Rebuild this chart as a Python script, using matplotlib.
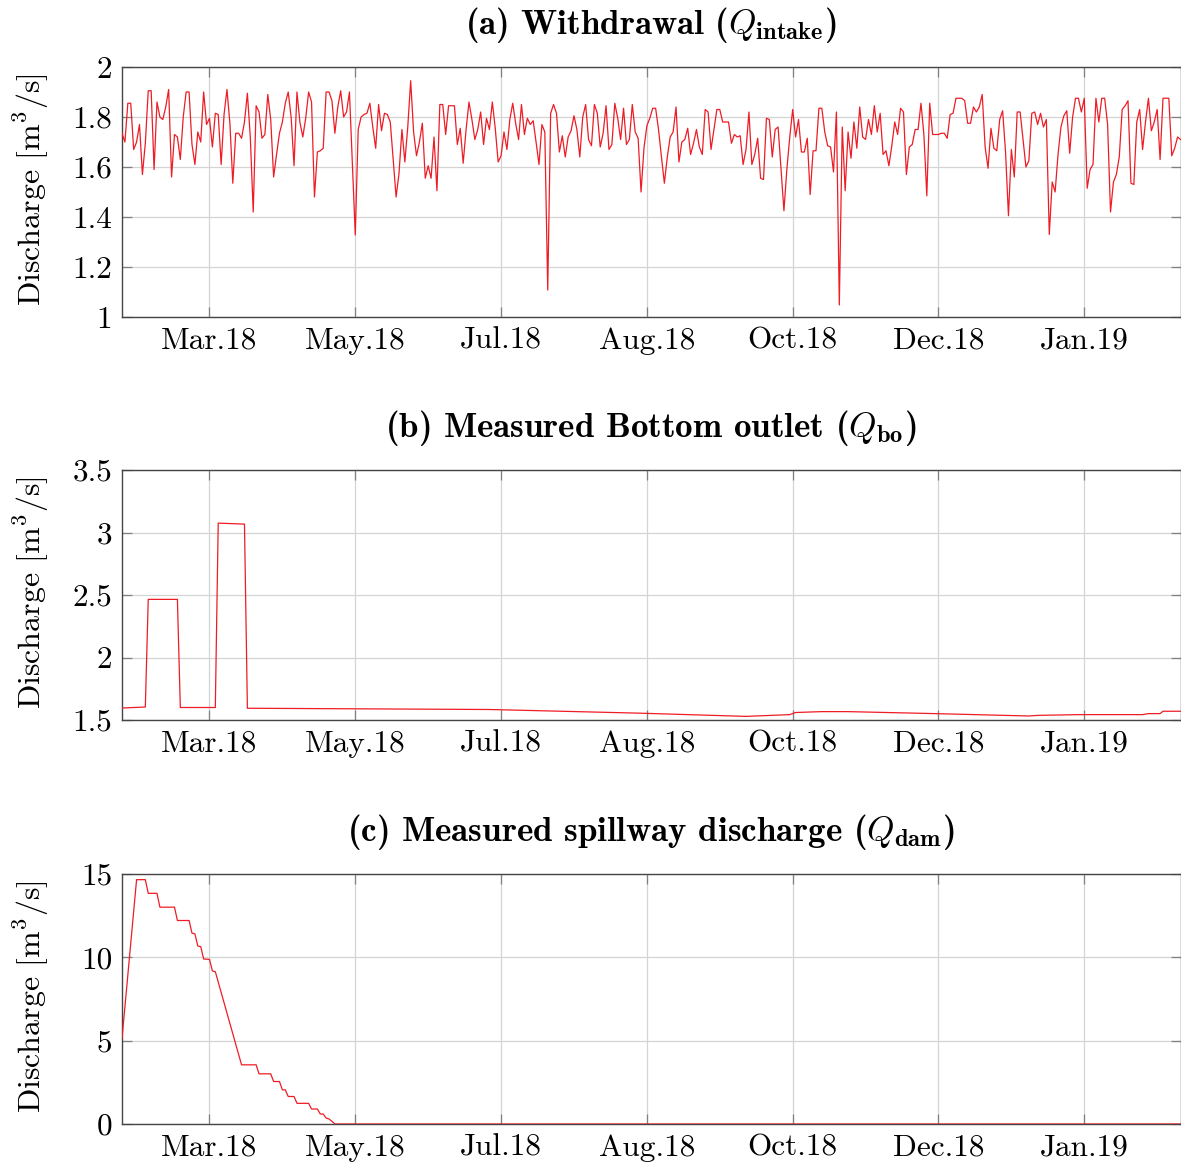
import matplotlib
matplotlib.use("Agg")
import matplotlib.pyplot as plt
import matplotlib.dates as mdates
from matplotlib.ticker import FixedLocator, FixedFormatter
import pandas as pd

# ---------------------------------------------------------------------------
# Data
# ---------------------------------------------------------------------------
start_date = "2018-02-28"
end_offset = 363  # days shown on the x axis

# (a) daily withdrawal at the intake [m3/s]
withdrawal = [
    1.735, 1.70, 1.855, 1.855, 1.67, 1.70, 1.77, 1.57, 1.695, 1.905,
    1.905, 1.59, 1.86, 1.80, 1.79, 1.84, 1.91, 1.56, 1.73, 1.72,
    1.63, 1.80, 1.90, 1.90, 1.69, 1.61, 1.74, 1.70, 1.90, 1.77,
    1.795, 1.68, 1.815, 1.81, 1.61, 1.81, 1.91, 1.775, 1.535, 1.735,
    1.735, 1.715, 1.78, 1.895, 1.72, 1.42, 1.845, 1.82, 1.715, 1.73,
    1.89, 1.79, 1.56, 1.65, 1.735, 1.78, 1.855, 1.90, 1.80, 1.605,
    1.90,
    1.78, 1.72, 1.795, 1.90, 1.86, 1.48, 1.66, 1.665, 1.675, 1.90,
    1.90, 1.865, 1.735, 1.84, 1.905, 1.80, 1.82, 1.90, 1.615, 1.328,
    1.75, 1.80, 1.81, 1.815, 1.855, 1.76, 1.675, 1.85, 1.745, 1.815,
    1.81, 1.78, 1.63, 1.48, 1.575, 1.75, 1.62, 1.76, 1.945, 1.74,
    1.645, 1.70, 1.775, 1.555, 1.605, 1.555, 1.72, 1.505, 1.85, 1.85,
    1.73, 1.845, 1.845, 1.845, 1.69, 1.755, 1.615, 1.75, 1.86, 1.79,
    1.71, 1.75, 1.82, 1.69, 1.795, 1.75, 1.86, 1.755, 1.62, 1.645,
    1.74, 1.67, 1.79, 1.855, 1.775, 1.71, 1.85, 1.73, 1.795, 1.77,
    1.785, 1.70, 1.61, 1.77, 1.74, 1.108, 1.815, 1.85, 1.815, 1.66,
    1.725, 1.64, 1.72, 1.745, 1.805, 1.75, 1.64, 1.80, 1.85, 1.71,
    1.685, 1.85, 1.815, 1.68, 1.735, 1.845, 1.67, 1.69, 1.855, 1.795,
    1.71, 1.835, 1.69, 1.71, 1.85, 1.74, 1.715, 1.50, 1.675, 1.765,
    1.795, 1.835, 1.835, 1.75, 1.64, 1.535, 1.64, 1.72, 1.74, 1.84,
    1.62, 1.70, 1.71, 1.755, 1.65, 1.695, 1.75, 1.68, 1.65, 1.83,
    1.82, 1.67, 1.75, 1.83, 1.83, 1.78, 1.78, 1.78, 1.695, 1.73,
    1.72, 1.725, 1.61, 1.67, 1.82, 1.61, 1.65, 1.715, 1.555, 1.55,
    1.795, 1.79, 1.64, 1.75, 1.76, 1.59, 1.425, 1.59, 1.72, 1.83,
    1.72, 1.79, 1.66, 1.66, 1.715, 1.49, 1.665, 1.665, 1.835, 1.835,
    1.74, 1.685, 1.68, 1.58, 1.82, 1.048, 1.76, 1.505, 1.74, 1.635,
    1.78, 1.675, 1.84, 1.72, 1.71, 1.79, 1.73, 1.845, 1.74, 1.815,
    1.65, 1.665, 1.605, 1.685, 1.78, 1.73, 1.835, 1.82, 1.57, 1.68,
    1.69, 1.75, 1.75, 1.855, 1.73, 1.485, 1.855, 1.73, 1.73, 1.73,
    1.735, 1.735, 1.715, 1.81, 1.815, 1.875, 1.875, 1.875, 1.865, 1.775,
    1.775, 1.84, 1.82, 1.84, 1.89, 1.68, 1.595, 1.755, 1.675, 1.665,
    1.79, 1.825, 1.66, 1.405, 1.67, 1.56, 1.82, 1.82, 1.71, 1.60,
    1.625, 1.815, 1.82, 1.77, 1.815, 1.76, 1.79, 1.33, 1.54, 1.50,
    1.65, 1.76, 1.805, 1.825, 1.655, 1.80, 1.875, 1.875, 1.82, 1.875,
    1.515, 1.59, 1.61, 1.875, 1.78, 1.875, 1.875, 1.77, 1.42, 1.54,
    1.57, 1.64, 1.83, 1.845, 1.865, 1.535, 1.53, 1.78, 1.83, 1.67,
    1.78, 1.875, 1.745, 1.78, 1.83, 1.63, 1.875, 1.875, 1.875, 1.645,
    1.675, 1.72, 1.71,
]

# (b) bottom outlet discharge, given at day offsets from the start date
bo_day = [0, 8, 9, 19, 20, 32, 33, 42, 43, 126, 177, 214, 229, 231, 240,
          249, 279, 311, 314, 328, 350, 352, 356, 357, 363]
bo_val = [1.596, 1.604, 2.465, 2.465, 1.600, 1.600, 3.075, 3.067, 1.594,
          1.584, 1.555, 1.529, 1.543, 1.560, 1.567, 1.567, 1.551, 1.532,
          1.537, 1.543, 1.543, 1.551, 1.551, 1.570, 1.570]

# (c) spillway discharge, given at day offsets from the start date
dam_day = [0, 5, 8, 9, 12, 13, 18, 19, 23, 24, 25, 26, 27, 28, 30, 31, 32,
           41, 46, 47, 51, 52, 54, 55, 56, 57, 59, 60, 64, 65, 67, 68, 69,
           70, 71, 72, 73, 363]
dam_val = [5.12, 14.66, 14.66, 13.84, 13.84, 13.01, 13.01, 12.21, 12.21,
           11.45, 11.41, 10.68, 10.64, 9.90, 9.88, 9.18, 9.14,
           3.55, 3.55, 3.01, 3.01, 2.55, 2.55, 2.05, 2.05, 1.65, 1.65,
           1.24, 1.24, 0.90, 0.90, 0.60, 0.60, 0.36, 0.30, 0.16, 0.0, 0.0]

xtick_dates = ["2018-03-30", "2018-05-19", "2018-07-08", "2018-08-27",
               "2018-10-16", "2018-12-05", "2019-01-24"]

titles = [
    r"(a) Withdrawal ($Q_{\mathbf{intake}}$)",
    r"(b) Measured Bottom outlet ($Q_{\mathbf{bo}}$)",
    r"(c) Measured spillway discharge ($Q_{\mathbf{dam}}$)",
]
yticks = [[1, 1.2, 1.4, 1.6, 1.8, 2],
          [1.5, 2, 2.5, 3, 3.5],
          [0, 5, 10, 15]]
ytick_labels = [["1", "1.2", "1.4", "1.6", "1.8", "2"],
                ["1.5", "2", "2.5", "3", "3.5"],
                ["0", "5", "10", "15"]]
ylimits = [(1, 2), (1.5, 3.5), (0, 15)]
ylabel = r"Discharge [m$^3$/s]"

# ---------------------------------------------------------------------------
# Figure
# ---------------------------------------------------------------------------
plt.rcParams.update({
    "font.family": "cmr10",
    "mathtext.fontset": "cm",
    "axes.formatter.use_mathtext": True,
    "font.size": 22,
})

t0 = pd.Timestamp(start_date)
t_end = t0 + pd.Timedelta(days=end_offset)
dates_a = pd.date_range(t0, periods=len(withdrawal), freq="D")
dates_b = [t0 + pd.Timedelta(days=d) for d in bo_day]
dates_c = [t0 + pd.Timedelta(days=d) for d in dam_day]
series = [(dates_a, withdrawal), (dates_b, bo_val), (dates_c, dam_val)]

W, H = 1181, 1164
fig = plt.figure(figsize=(W / 100, H / 100), dpi=100)

ax_left, ax_right = 122, 1180.5
ax_tops = [67, 470, 874]
ax_h = 250

line_color = "#ee1c25"
grid_color = "#d4d4d4"
spine_color = "#454545"
tick_color = "#808080"

xtick_pos = mdates.date2num(pd.to_datetime(xtick_dates))

for i, (x, y) in enumerate(series):
    top = ax_tops[i]
    ax = fig.add_axes([ax_left / W, 1 - (top + ax_h) / H,
                       (ax_right - ax_left) / W, ax_h / H])
    ax.plot(x, y, color=line_color, lw=0.9, zorder=3)
    ax.set_xlim(t0, t_end)
    ax.set_ylim(*ylimits[i])

    ax.xaxis.set_major_locator(FixedLocator(xtick_pos))
    ax.xaxis.set_major_formatter(mdates.DateFormatter("%b.%y"))
    ax.yaxis.set_major_locator(FixedLocator(yticks[i]))
    ax.yaxis.set_major_formatter(FixedFormatter(ytick_labels[i]))

    ax.set_axisbelow(True)
    ax.grid(True, color=grid_color, lw=0.9)
    ax.tick_params(direction="in", length=7, width=0.9, color=tick_color,
                   top=True, right=True, labelsize=22.5, pad=7)
    for s in ax.spines.values():
        s.set_color(spine_color)
        s.set_linewidth(1.0)

    ax.set_title(titles[i], fontfamily="cmb10", fontsize=25.2, pad=24)
    ax.set_ylabel(ylabel, fontsize=23)
    ax.yaxis.set_label_coords(-0.067, 0.51)

fig.savefig("out.png", dpi=100)
